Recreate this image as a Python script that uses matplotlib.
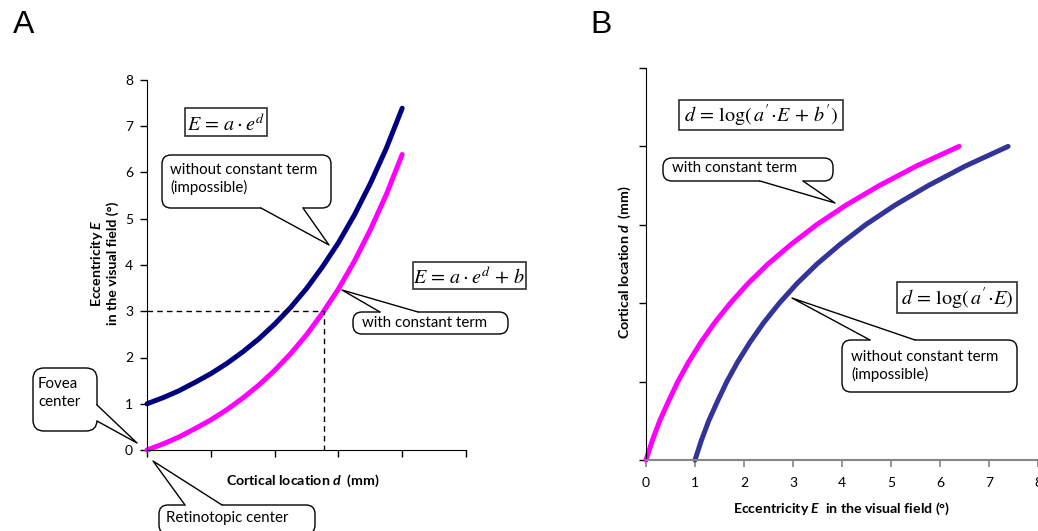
import numpy as np
import matplotlib.pyplot as plt
from matplotlib.patches import FancyBboxPatch, Rectangle, Polygon

plt.rcParams['font.family'] = ['Lato', 'DejaVu Sans']
# mathtext is only used for the bold axis labels (formulas use stix)
plt.rcParams['mathtext.fontset'] = 'custom'
plt.rcParams['mathtext.rm'] = 'Lato:bold'
plt.rcParams['mathtext.it'] = 'Lato:italic:bold'
plt.rcParams['mathtext.bf'] = 'Lato:bold'
plt.rcParams['mathtext.bfit'] = 'Lato:italic:bold'

# values (panel B uses the same curves with axes swapped)
cortical_d = [0, 0.25, 0.5, 0.75, 1.0, 1.25, 1.5, 1.75, 2.0,
              2.25, 2.5, 2.75, 3.0, 3.25, 3.5, 3.75, 4.0]
ecc_without_b = [1.00, 1.13, 1.28, 1.46, 1.65, 1.87, 2.12, 2.40, 2.72,
                 3.08, 3.49, 3.96, 4.48, 5.08, 5.76, 6.52, 7.39]
ecc_with_b = [0.00, 0.13, 0.28, 0.46, 0.65, 0.87, 1.12, 1.40, 1.72,
              2.08, 2.49, 2.96, 3.48, 4.08, 4.76, 5.52, 6.39]
ecc_ref = 3.0
d_ref = 2.77

navy_a = '#000080'
navy_b = '#333399'
magenta = '#ff00ff'

W, H = 1038, 531
fig = plt.figure(figsize=(W / 100, H / 100), dpi=100)

# ---- panel A ----
axA = fig.add_axes([147 / W, 1 - 450 / H, (466 - 147) / W, (450 - 80) / H])
axA.plot(cortical_d, ecc_without_b, color=navy_a, lw=3.6, solid_capstyle='round', clip_on=False)
axA.plot(cortical_d, ecc_with_b, color=magenta, lw=3.6, solid_capstyle='round', clip_on=False)
axA.plot([0, d_ref, d_ref], [ecc_ref, ecc_ref, 0], color='black', lw=1, dashes=(4, 3))
axA.set_xlim(0, 5)
axA.set_ylim(0, 8)
axA.set_xticks(range(6))
axA.set_xticklabels([])
axA.set_yticks(range(9))
for s in ['top', 'right']:
    axA.spines[s].set_visible(False)
axA.tick_params(direction='out', length=5, width=1, labelsize=10, pad=5)

# ---- panel B ----
axB = fig.add_axes([646 / W, 1 - 460 / H, (1038 - 646) / W, (460 - 68) / H])
axB.plot(ecc_with_b, cortical_d, color=magenta, lw=3.6, solid_capstyle='round', clip_on=False)
axB.plot(ecc_without_b, cortical_d, color=navy_b, lw=3.6, solid_capstyle='round', clip_on=False)
axB.set_xlim(0, 8)
axB.set_ylim(0, 5)
axB.set_xticks(range(9))
axB.set_yticks(range(6))
axB.set_yticklabels([])
for s in ['top', 'right']:
    axB.spines[s].set_visible(False)
axB.spines['bottom'].set_color('#868686')
axB.spines['bottom'].set_linewidth(1.5)
axB.tick_params(axis='x', direction='out', length=5, width=1.2, color='#868686', labelsize=10, pad=7)
axB.tick_params(axis='y', direction='out', length=5, width=1)

# ---- overlay in pixel coordinates for labels and callouts ----
ov = fig.add_axes([0, 0, 1, 1], zorder=10)
ov.set_xlim(0, W)
ov.set_ylim(H, 0)
ov.axis('off')
ov.patch.set_alpha(0)

ov.text(24, 25, 'A', fontsize=23, family='Liberation Sans', ha='center', va='center')
ov.text(601, 25, 'B', fontsize=23, family='Liberation Sans', ha='center', va='center')

lab = 10.2
ov.text(303, 481, r'Cortical location $\mathit{d}$  (mm)', fontsize=lab, fontweight='bold',
        ha='center', va='center')
ov.text(104, 263, 'Eccentricity $\\mathit{E}$\nin the visual field (°)', fontsize=lab,
        fontweight='bold', ha='center', va='center', rotation=90, multialignment='center',
        linespacing=1.2)
ov.text(842, 509, r'Eccentricity $\mathit{E}$  in the visual field (°)', fontsize=lab,
        fontweight='bold', ha='center', va='center')
ov.text(625, 262, r'Cortical location $\mathit{d}$  (mm)', fontsize=lab, fontweight='bold',
        ha='center', va='center', rotation=90)


def formula(x0, y0, x1, y1, tex):
    ov.add_patch(Rectangle((x0, y0), x1 - x0, y1 - y0, fc='white', ec='#303030', lw=1.2))
    ov.text((x0 + x1) / 2, (y0 + y1) / 2 + 1, tex, fontsize=14.5, math_fontfamily='stix',
            ha='center', va='center')


def bubble(x0, y0, x1, y1, b1, b2, tip, side, text, tx, ty, r=9):
    ov.add_patch(FancyBboxPatch((x0, y0), x1 - x0, y1 - y0,
                                boxstyle=f'round,pad=0,rounding_size={r}',
                                fc='white', ec='black', lw=1))
    shift = {'bottom': (0, -2), 'top': (0, 2), 'right': (-2, 0), 'left': (2, 0)}[side]
    pts = [(b1[0] + shift[0], b1[1] + shift[1]), b1, tip, b2,
           (b2[0] + shift[0], b2[1] + shift[1])]
    ov.add_patch(Polygon(pts, closed=True, fc='white', ec='none'))
    ov.plot([b1[0], tip[0], b2[0]], [b1[1], tip[1], b2[1]], color='black', lw=1)
    ov.text(tx, ty, text, fontsize=10.8, ha='left', va='center', linespacing=1.3)


formula(185, 108, 267, 136, r'$E\,=\,a\cdot e^{d}$')
formula(413, 262, 526, 289, r'$E\,=\,a\cdot e^{d}\,+\,b$')
formula(679, 100, 843, 130, r"$d\,=\,\log(\,a'\!\cdot\! E\,+\,b')$")
formula(897, 282, 1017, 313, r"$d\,=\,\log(\,a'\!\cdot\! E)$")

bubble(162, 155, 331, 208, (261, 208), (303, 208), (329, 245), 'bottom',
       'without constant term\n(impossible)', 170, 179)
bubble(353, 312, 508, 334, (380, 312), (418, 312), (342, 290), 'top',
       'with constant term', 362, 323)
bubble(33, 368, 97, 431, (97, 405), (97, 421), (137, 443), 'right',
       'Fovea\ncenter', 38, 393, r=11)
bubble(159, 505, 315, 534, (185, 505), (222, 505), (153, 461), 'top',
       'Retinotopic center', 166, 518)
bubble(663, 158, 833, 181, (760, 181), (803, 181), (835, 203), 'bottom',
       'with constant term', 672, 168)
bubble(842, 340, 1017, 392, (870, 340), (915, 340), (792, 298), 'top',
       'without constant term\n(impossible)', 851, 366)

fig.savefig('out.png', dpi=100)
